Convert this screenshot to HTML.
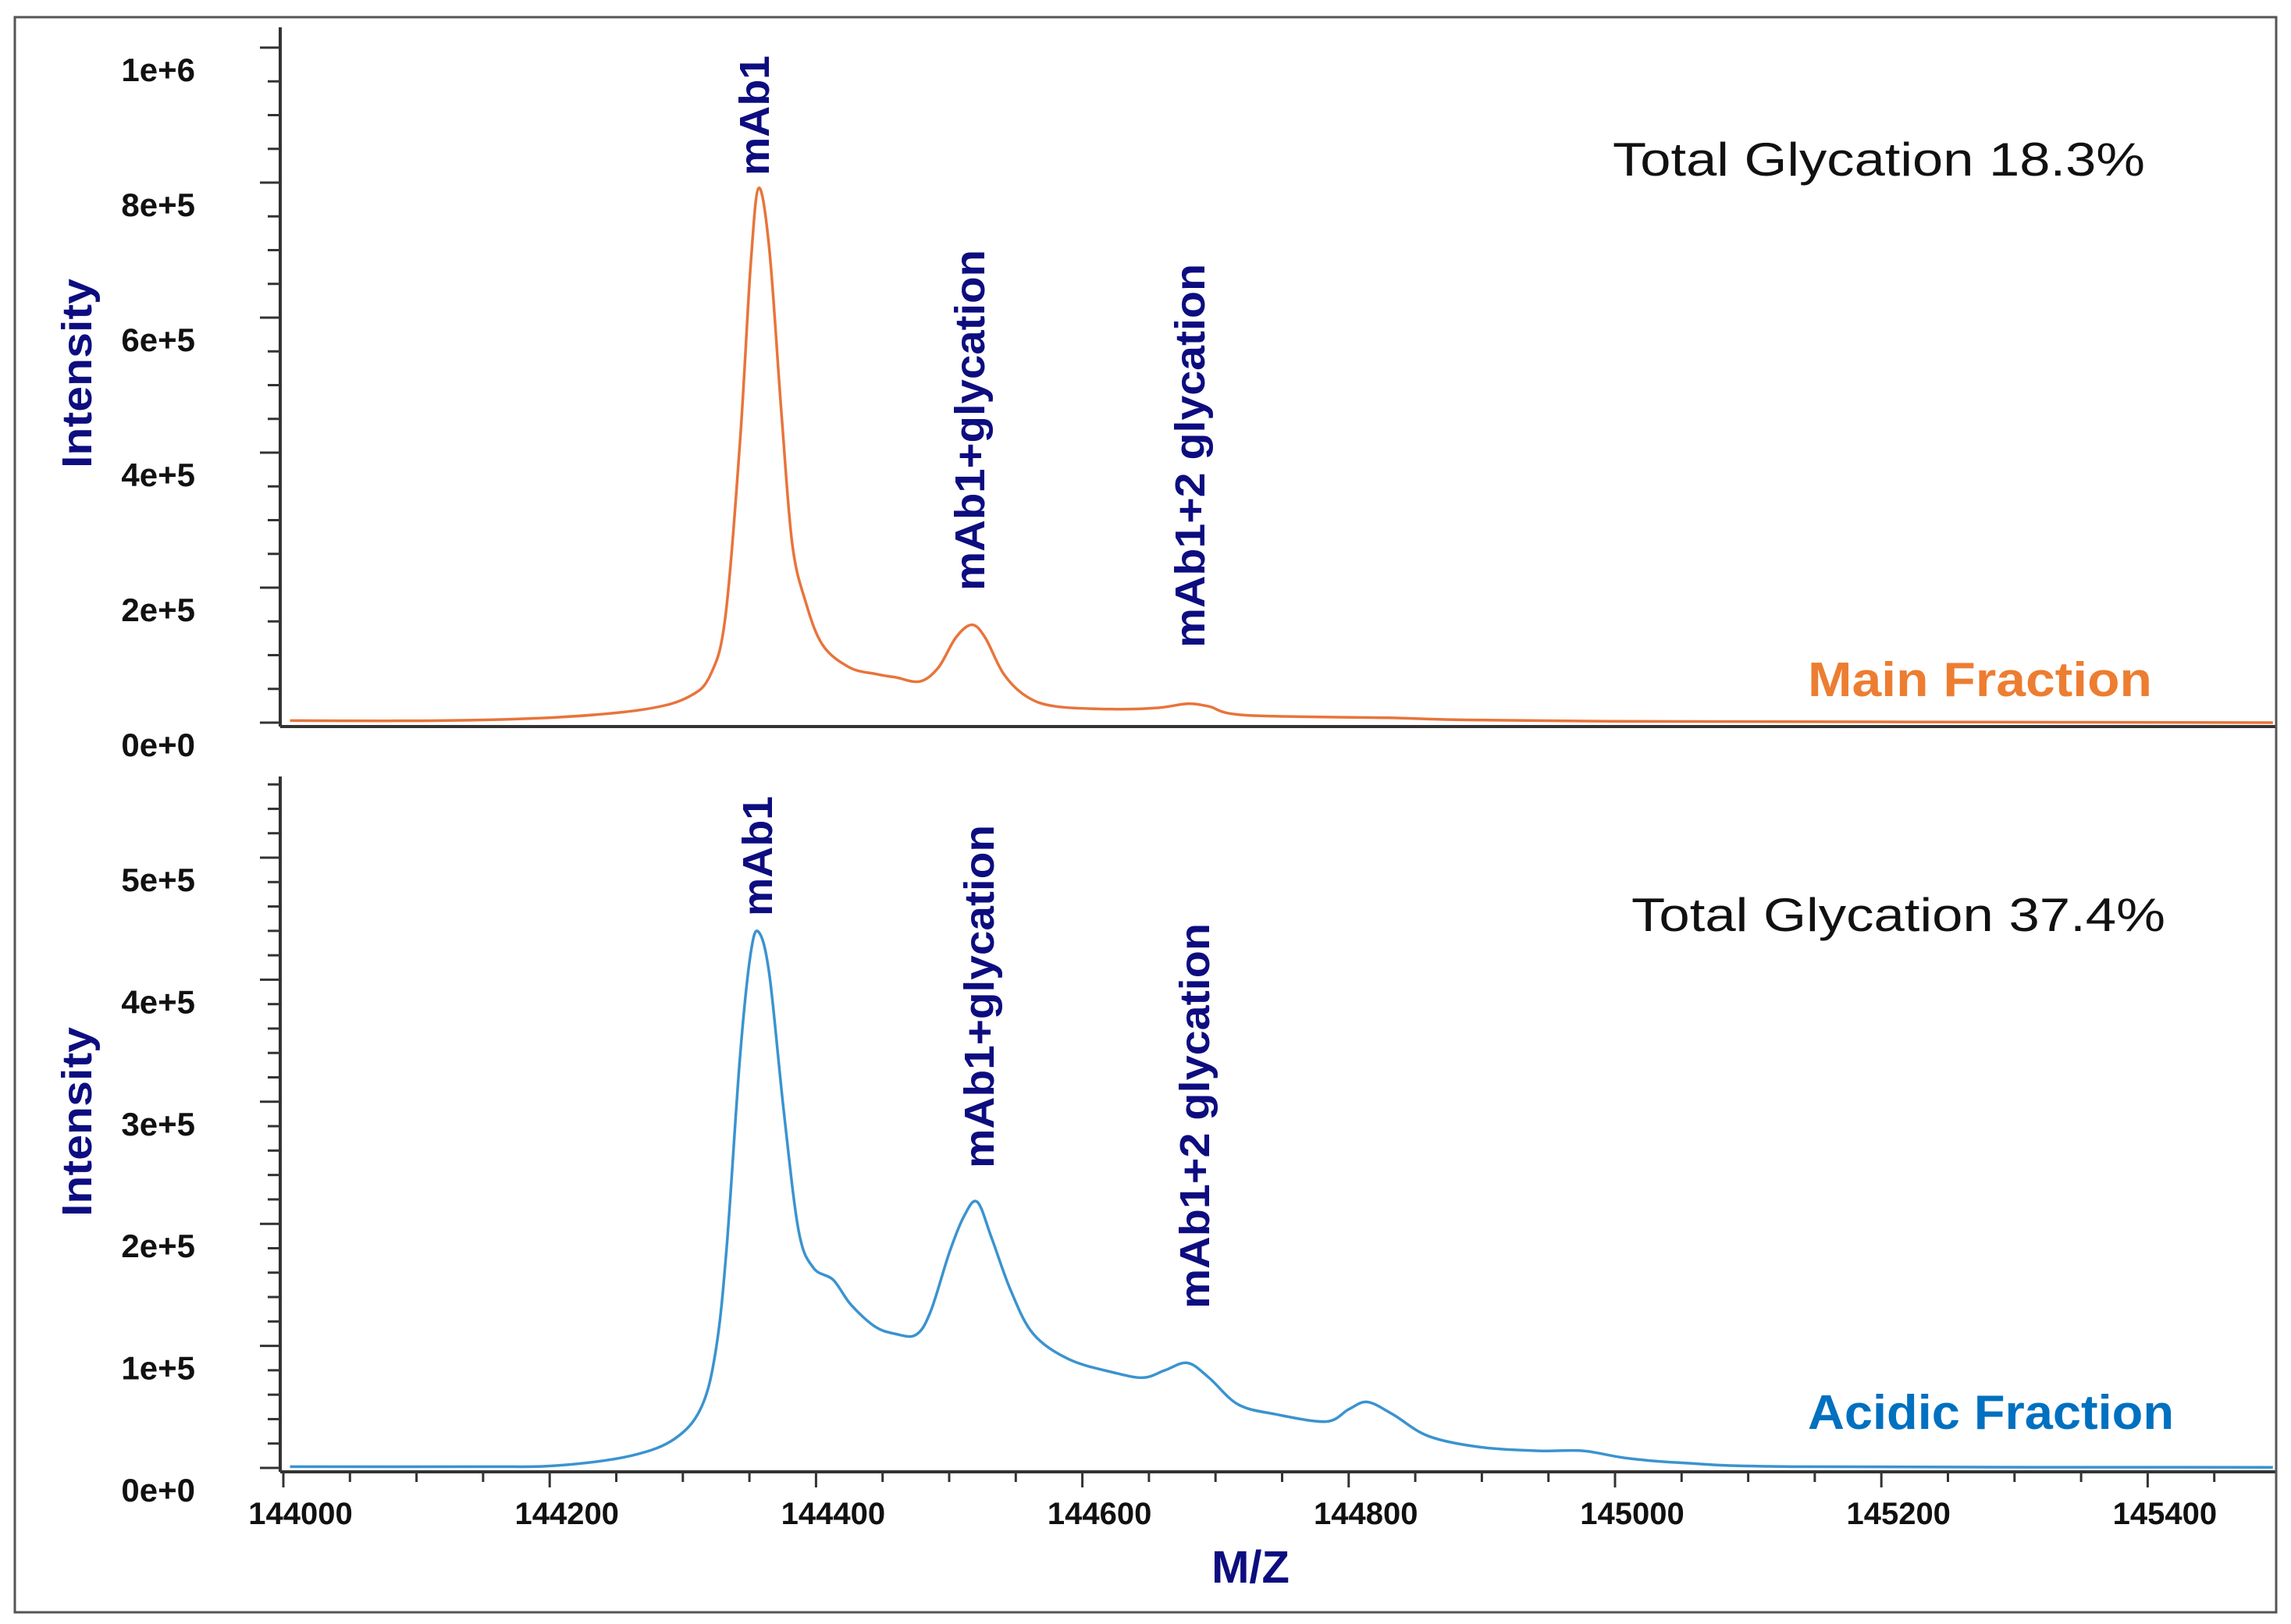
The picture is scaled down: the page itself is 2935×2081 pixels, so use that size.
<!DOCTYPE html>
<html><head><meta charset="utf-8"><style>
html,body{margin:0;padding:0;background:#fff}
svg{display:block}
text{font-family:"Liberation Sans",sans-serif}
</style></head><body>
<svg id="chart" width="2935" height="2081" viewBox="0 0 2935 2081" xmlns="http://www.w3.org/2000/svg">
<rect x="19" y="22" width="2897" height="2044" fill="#fff" stroke="#9a9a9a" stroke-width="2"/>
<g id="g"></g>
</svg>
<script>
// ---- data ----
const mzTicks = [144000,144200,144400,144600,144800,145000,145200,145400];
const topYTicks = [0,200000,400000,600000,800000,1000000];
const topYLabels = ["0e+0","2e+5","4e+5","6e+5","8e+5","1e+6"];
const botYTicks = [0,100000,200000,300000,400000,500000];
const botYLabels = ["0e+0","1e+5","2e+5","3e+5","4e+5","5e+5"];
const mainMz = [144005,144118,144206,144272,144305,144321,144332,144343,144351,144357,144365,144374,144382,144392,144405,144425,144445,144460,144478,144492,144505,144517,144527,144541,144558,144580,144624,144657,144679,144695,144723,144833,144888,144998,145218,145494];
const mainInt = [3000,3000,8000,20000,39000,72000,158000,419000,680000,792000,700000,460000,267000,180000,115000,82000,72000,67000,61000,82000,126000,145000,126000,72000,39000,24000,20000,22000,28000,24000,11000,7000,4000,2000,1000,0];
const acidMz = [144005,144150,144206,144261,144294,144314,144325,144333,144343,144351,144357,144365,144376,144387,144398,144413,144426,144444,144459,144475,144486,144500,144511,144521,144532,144546,144563,144590,144624,144646,144662,144679,144695,144717,144745,144783,144800,144814,144833,144860,144899,144943,144976,145009,145053,145141,145494];
const acidInt = [1000,1000,2000,10000,24000,50000,98000,182000,338000,422000,439000,404000,290000,194000,164000,154000,134000,116000,110000,109000,128000,176000,206000,218000,188000,146000,110000,89000,78000,74000,80000,86000,74000,52000,44000,38000,48000,54000,44000,26000,17000,14000,14000,8000,4000,1000,500];

// ---- axes ----
const X0=363, PXU=1.706;
const xs = v => X0 + (v-144000)*PXU;
const yTop = v => 926 - v*0.000865;
const yBot = v => 1881 - v*0.001564;
const NS="http://www.w3.org/2000/svg";
const g=document.getElementById('g');
function mk(tag, attrs, parent){const e=document.createElementNS(NS,tag);for(const k in attrs)e.setAttribute(k,attrs[k]);(parent||g).appendChild(e);return e;}

function panel(yf, yt, ylab, ytop, ybottom, minorStep, maxV, name, xticks){
  const grp=mk('g',{});
  
  
  const ya=mk('line',{x1:X0-4,y1:ytop,x2:X0-4,y2:ybottom+5,stroke:'#333','stroke-width':4},grp);
  
  
  const xa=mk('line',{x1:X0-4,y1:ybottom+5,x2:2916,y2:ybottom+5,stroke:'#333','stroke-width':4},grp);
  
  
  for(let v=0; v<=maxV; v+=minorStep){
    const major = yt.includes(v);
    const t=mk('line',{x1:major?X0-30:X0-20,y1:yf(v),x2:X0-4,y2:yf(v),stroke:'#333','stroke-width':3},grp);
    
    
  }
  yt.forEach((v,i)=>{
    const t=mk('text',{x:250,y:yf(v)+43,'text-anchor':'end','font-size':42,'font-weight':'bold',fill:'#111'},grp);
    t.textContent=ylab[i];
    
    
  });
  if(xticks){
    for(let v=144000; v<=145450; v+=50){
      const major=(v%200===0);
      const t=mk('line',{x1:xs(v),y1:ybottom+5,x2:xs(v),y2:ybottom+5+(major?20:13),stroke:'#333','stroke-width':3},grp);
      
      
    }
  }
  return grp;
}
panel(yTop, topYTicks, topYLabels, 35, 926, 50000, 1000000, 'main', false);
panel(yBot, botYTicks, botYLabels, 995, 1881, 20000, 560000, 'acidic', true);
mzTicks.forEach(v=>{
  const t=mk('text',{x:xs(v)+22,y:1953,'text-anchor':'middle','font-size':40,'font-weight':'bold',fill:'#111'});
  t.textContent=v;
  
  
});
mk('rect',{x:19,y:22,width:2897,height:2044,fill:'none',stroke:'#555','stroke-width':3});

function series(mz, it, yf, color, name){
  const P = mz.map((m,i)=>[xs(m), yf(it[i])]);
  let d='M'+P[0][0].toFixed(1)+' '+P[0][1].toFixed(1);
  for(let i=0;i<P.length-1;i++){
    const p0=P[Math.max(0,i-1)], p1=P[i], p2=P[i+1], p3=P[Math.min(P.length-1,i+2)];
    const c1=[p1[0]+(p2[0]-p0[0])/6, p1[1]+(p2[1]-p0[1])/6];
    const c2=[p2[0]-(p3[0]-p1[0])/6, p2[1]-(p3[1]-p1[1])/6];
    d+=` C${c1[0].toFixed(1)} ${c1[1].toFixed(1)} ${c2[0].toFixed(1)} ${c2[1].toFixed(1)} ${p2[0].toFixed(1)} ${p2[1].toFixed(1)}`;
  }
  const p=mk('path',{d:d,fill:'none',stroke:color,'stroke-width':3.5,'stroke-linejoin':'round'});
  
  
}
series(mainMz, mainInt, yTop, '#E8743B', 'main-fraction-line');
series(acidMz, acidInt, yBot, '#3A93D0', 'acidic-fraction-line');

function txt(s,attrs,name){const t=mk('text',attrs);t.textContent=s;return t;}
function vtxt(s,cx,bottom,len,name){
  return txt(s,{transform:`translate(${cx+18},${bottom}) rotate(-90)`,'font-size':54,'font-weight':'bold',fill:'#0D0D80',textLength:len,lengthAdjust:'spacingAndGlyphs'},name);
}
vtxt('Intensity',99,600,243,'y-axis-title-top');
vtxt('Intensity',99,1559,243,'y-axis-title-bottom');
vtxt('mAb1',967,225,154,'peak-label-mab1-top');
vtxt('mAb1+glycation',1243,757,437,'peak-label-glycation-top');
vtxt('mAb1+2 glycation',1525,830,492,'peak-label-2-glycation-top');
vtxt('mAb1',971,1174,154,'peak-label-mab1-bottom');
vtxt('mAb1+glycation',1255,1497,440,'peak-label-glycation-bottom');
vtxt('mAb1+2 glycation',1531,1677,494,'peak-label-2-glycation-bottom');
txt('Total Glycation 18.3%',{x:2066,y:225,'font-size':60,fill:'#111',textLength:682,lengthAdjust:'spacingAndGlyphs'},'total-glycation-main');
txt('Total Glycation 37.4%',{x:2090,y:1193,'font-size':60,fill:'#111',textLength:684,lengthAdjust:'spacingAndGlyphs'},'total-glycation-acidic');
txt('Main Fraction',{x:2316,y:892,'font-size':62,'font-weight':'bold',fill:'#ED7D31',textLength:441,lengthAdjust:'spacingAndGlyphs'},'legend-main-fraction');
txt('Acidic Fraction',{x:2316,y:1831,'font-size':62,'font-weight':'bold',fill:'#0070C0',textLength:469,lengthAdjust:'spacingAndGlyphs'},'legend-acidic-fraction');
txt('M/Z',{x:1602,y:2028,'text-anchor':'middle','font-size':58,'font-weight':'bold',fill:'#0D0D80'},'x-axis-title');
</script>
</body></html>
